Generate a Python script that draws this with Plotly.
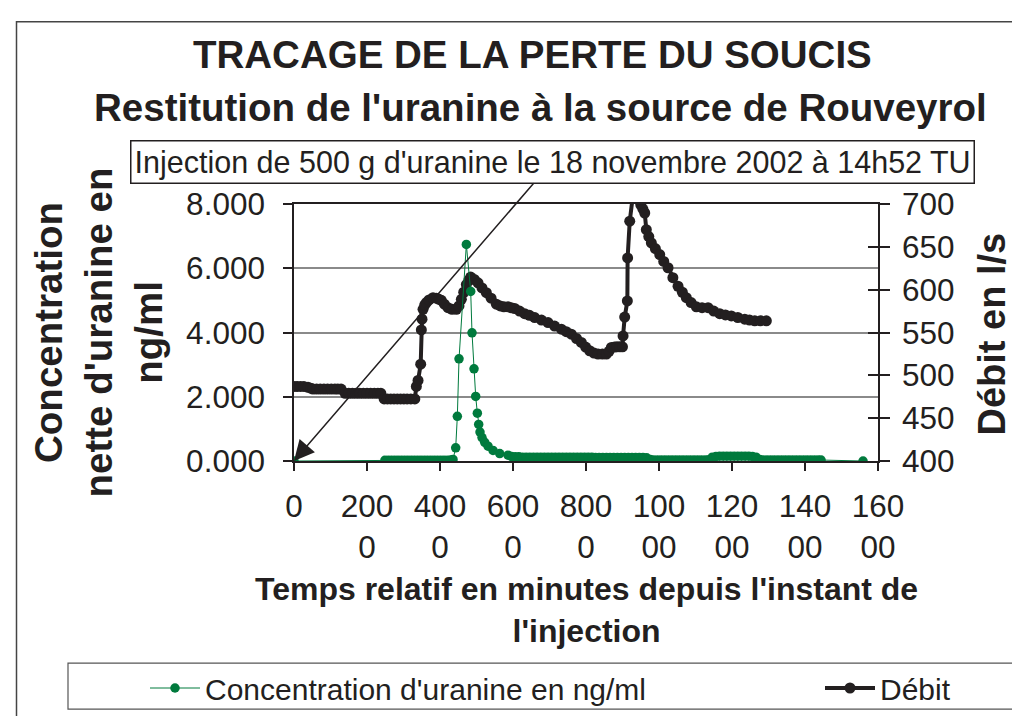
import plotly.graph_objects as go

# ---------------- data ----------------
# Débit (l/s) vs time since injection (minutes)
debit_t = [0, 90, 180, 270, 384, 460, 520, 620, 720, 820, 920, 1020, 1120, 1200, 1290,
           1400, 1500, 1600, 1700, 1800, 1900, 2000, 2100, 2200, 2300, 2380,
           2470, 2560, 2650, 2740, 2830, 2920, 3010, 3100, 3200, 3310, 3352, 3398, 3471,
           3489, 3507, 3535, 3580, 3626, 3700, 3809, 3900, 3960, 4037, 4120, 4220, 4330,
           4448, 4520, 4585, 4650, 4722, 4790, 4841, 4940, 5042, 5150, 5270, 5400, 5544,
           5650, 5750, 5864, 5950, 6046, 6180, 6320, 6450, 6595, 6780, 6960, 7140, 7325,
           7460, 7598, 7740, 7872, 7990, 8101, 8220, 8330, 8450, 8558, 8630, 8695, 8780,
           8850, 8930, 9000, 9015, 9060, 9133, 9140, 9198, 9300, 9500, 9560, 9609, 9653,
           9720, 9790, 9900, 10020, 10130, 10248, 10380, 10522, 10640, 10749, 10880,
           11023, 11180, 11344, 11500, 11664, 11820, 11982, 12160, 12349, 12480, 12623,
           12780, 12941]
debit_q = [487, 487, 487, 487, 486, 485, 484, 484, 484, 484, 484, 484, 484, 484, 484,
           479, 479, 479, 479, 479, 479, 479, 479, 479, 479, 479,
           472.5, 472.5, 472.5, 472.5, 472.5, 472.5, 472.5, 472.5, 472.5, 472.5, 487, 494,
           513, 553, 565.5, 577, 582, 585, 588, 590.7, 590, 589, 587.6, 583, 579, 577,
           577, 581, 588.7, 597, 606, 611, 614.7, 612, 608, 602, 596.5, 590, 583,
           581, 580, 580, 579, 578, 575, 572, 570, 567.4, 564.5, 561.6, 557.5, 553.9,
           551, 548, 543, 538.4, 533, 528.7, 526, 524.8, 524.8, 524.8, 528, 532.6, 533,
           533.3, 533.3, 533.3, 546, 568, 586.8, 637, 680, 715, 699, 694, 689.5, 670,
           662, 654.7, 648, 641, 633, 625.6, 614, 604, 597, 590.7, 585,
           580, 579, 579, 575, 572, 570.5, 569.4, 567.5, 565.5, 564.5, 563.6,
           563.6, 563.6]

# Concentration d'uranine (ng/ml) vs time since injection (minutes)
conc_t = [0, 2490, 2580, 2670, 2760, 2850, 2940, 3030, 3120, 3210, 3300, 3390, 3480, 3570,
          3660, 3750, 3840, 3930, 4020, 4110, 4200, 4290, 4357, 4430, 4475, 4521, 4722,
          4841, 4877, 4932, 4978, 5023, 5060, 5096, 5151, 5225, 5316, 5453, 5636, 5864,
          5960, 6060, 6160, 6260, 6360, 6460, 6560, 6660, 6760, 6860, 6960, 7060, 7160,
          7260, 7360, 7460, 7560, 7660, 7760, 7860, 7960, 8060, 8160, 8260, 8360, 8460,
          8560, 8660, 8760, 8860, 8960, 9060, 9160, 9260, 9360, 9460, 9560, 9660, 9760,
          9860, 9960, 10060, 10160, 10260, 10360, 10460, 10560, 10660, 10760, 10860,
          10960, 11060, 11160, 11260, 11360, 11460, 11560, 11660, 11760, 11860, 11960,
          12060, 12160, 12260, 12360, 12460, 12560, 12660, 12760, 12860, 12960, 13060,
          13160, 13260, 13360, 13460, 13560, 13660, 13760, 13860, 13960, 14060, 14160,
          14260, 14360, 14440, 15590]
conc_c = [0.0, 0.02, 0.02, 0.02, 0.02, 0.02, 0.02, 0.02, 0.02, 0.02, 0.02, 0.02, 0.02, 0.02,
          0.02, 0.02, 0.02, 0.02, 0.02, 0.02, 0.02, 0.03, 0.05, 0.41, 1.39, 3.18, 6.74,
          5.28, 3.99, 2.87, 2.01, 1.49, 1.14, 0.90, 0.73, 0.58, 0.46, 0.33, 0.23, 0.18,
          0.14, 0.13, 0.13, 0.12, 0.12, 0.12, 0.12, 0.12, 0.12, 0.12, 0.12, 0.12, 0.12,
          0.12, 0.12, 0.12, 0.12, 0.12, 0.12, 0.12, 0.12, 0.12, 0.12, 0.11, 0.11, 0.11,
          0.11, 0.11, 0.11, 0.11, 0.11, 0.11, 0.11, 0.11, 0.11, 0.11, 0.11, 0.10, 0.05,
          0.03, 0.03, 0.03, 0.03, 0.03, 0.03, 0.03, 0.03, 0.03, 0.03, 0.03,
          0.03, 0.03, 0.03, 0.03, 0.04, 0.12, 0.14, 0.15, 0.15, 0.15, 0.15,
          0.15, 0.15, 0.15, 0.15, 0.15, 0.14, 0.12, 0.05, 0.03, 0.03, 0.03,
          0.03, 0.03, 0.03, 0.03, 0.03, 0.03, 0.03, 0.03, 0.03, 0.03, 0.03,
          0.03, 0.03, 0.03, 0.0]

x_tickvals = [0, 2000, 4000, 6000, 8000, 10000, 12000, 14000, 16000]
x_ticktext = ["0", "200<br>0", "400<br>0", "600<br>0", "800<br>0",
              "100<br>00", "120<br>00", "140<br>00", "160<br>00"]
conc_tickvals = [0, 2, 4, 6, 8]
conc_ticktext = ["0.000", "2.000", "4.000", "6.000", "8.000"]
debit_tickvals = [400, 450, 500, 550, 600, 650, 700]

title1 = "TRACAGE DE LA PERTE DU SOUCIS"
title2 = "Restitution de l'uranine à la source de Rouveyrol"
note = "Injection de 500 g d'uranine le 18 novembre 2002 à 14h52 TU"
ytitle_left = "Concentration<br>nette d'uranine en<br>ng/ml"
ytitle_right = "Débit en l/s"
xtitle = "Temps relatif en minutes depuis l'instant de<br>l'injection"

# ---------------- figure ----------------
FONT = "Liberation Sans, Arial, sans-serif"
TXT = "#231F20"
GREEN = "#007A3D"
BLACK = "#231F20"

W, H = 1020, 716
L, R, T, B = 286, 150, 196, 262
pw, ph = W - L - R, H - T - B


def px(xp):
    return (xp - L) / pw


def py(yp):
    return (H - B - yp) / ph


fig = go.Figure()

# invisible copy of the Débit series on a helper axis that only carries the
# inner half of the crossing ticks on the right-hand axis
fig.add_trace(go.Scatter(
    x=debit_t, y=debit_q, mode="lines", line=dict(width=0, color="rgba(0,0,0,0)"),
    yaxis="y3", showlegend=False, hoverinfo="skip"))

# Débit on primary y (drawn below), displayed on the right side
fig.add_trace(go.Scatter(
    x=debit_t, y=debit_q, name="Débit", mode="lines+markers",
    line=dict(color=BLACK, width=4), marker=dict(color=BLACK, size=11),
    yaxis="y", legend="legend2"))

# Concentration on overlaying axis (drawn on top), displayed on the left
fig.add_trace(go.Scatter(
    x=conc_t, y=conc_c, name="Concentration d'uranine en ng/ml", mode="lines+markers",
    line=dict(color=GREEN, width=1), marker=dict(color=GREEN, size=9.5),
    yaxis="y2", legend="legend"))

TICKFONT = dict(size=31.5, family=FONT, color=TXT)

fig.update_layout(
    width=W, height=H,
    margin=dict(l=L, r=R, t=T, b=B),
    paper_bgcolor="white", plot_bgcolor="white",
    font=dict(family=FONT, color=TXT),
    showlegend=True,
    legend=dict(orientation="h", x=px(137), y=py(680), xanchor="left", yanchor="middle",
                font=dict(size=30, family=FONT, color=TXT),
                bgcolor="rgba(0,0,0,0)", borderwidth=0, itemwidth=50),
    legend2=dict(orientation="h", x=px(812), y=py(680), xanchor="left", yanchor="middle",
                 font=dict(size=30, family=FONT, color=TXT),
                 bgcolor="rgba(0,0,0,0)", borderwidth=0, itemwidth=50),
    xaxis=dict(range=[0, 16000], tickvals=x_tickvals, ticktext=x_ticktext,
               tickfont=TICKFONT,
               ticks="outside", ticklen=8, tickcolor=BLACK, tickwidth=1.5,
               showline=True, linecolor=BLACK, linewidth=1.5, mirror=True,
               showgrid=False, zeroline=False, layer="below traces",
               ticklabelstandoff=8),
    yaxis=dict(range=[400, 700], tickvals=debit_tickvals, side="right",
               tickfont=TICKFONT,
               ticks="outside", ticklen=10, tickcolor=BLACK, tickwidth=1.5,
               showline=True, linecolor=BLACK, linewidth=1.5,
               showgrid=False, zeroline=False, ticklabelstandoff=6),
    yaxis2=dict(range=[0, 8], tickvals=conc_tickvals, ticktext=conc_ticktext,
                overlaying="y", side="left",
                tickfont=TICKFONT,
                ticks="outside", ticklen=9, tickcolor=BLACK, tickwidth=1.5,
                showline=True, linecolor=BLACK, linewidth=1.5,
                showgrid=True, gridcolor="#8a8a8a", gridwidth=1.5,
                zeroline=False, ticklabelstandoff=12),
    yaxis3=dict(range=[400, 700], tickvals=debit_tickvals, overlaying="y", side="right",
                anchor="x", ticks="inside", ticklen=10, tickcolor=BLACK, tickwidth=1.5,
                showticklabels=False, showline=False, showgrid=False, zeroline=False),
)

annotations = [
    dict(text="<b>" + title1 + "</b>", x=px(524), y=py(46), xref="paper", yref="paper",
         showarrow=False, font=dict(size=38.5, family=FONT, color=TXT),
         xanchor="center", yanchor="middle"),
    dict(text="<b>" + title2 + "</b>", x=px(532), y=py(99), xref="paper", yref="paper",
         showarrow=False, font=dict(size=38.5, family=FONT, color=TXT),
         xanchor="center", yanchor="middle"),
    dict(text="<b>" + ytitle_left + "</b>", x=px(90), y=py(325), xref="paper", yref="paper",
         showarrow=False, textangle=-90, font=dict(size=38.5, family=FONT, color=TXT),
         xanchor="center", yanchor="middle"),
    dict(text="<b>" + ytitle_right + "</b>", x=px(984), y=py(327), xref="paper", yref="paper",
         showarrow=False, textangle=-90, font=dict(size=38, family=FONT, color=TXT),
         xanchor="center", yanchor="middle"),
    dict(text="<b>" + xtitle + "</b>", x=px(578), y=py(604), xref="paper", yref="paper",
         showarrow=False, font=dict(size=32, family=FONT, color=TXT),
         xanchor="center", yanchor="middle"),
    dict(text=note, x=0, y=0, xref="x", yref="y2",
         showarrow=True, axref="pixel", ayref="pixel", ax=258, ay=-299,
         arrowhead=2, arrowsize=2.7, arrowwidth=1.5, arrowcolor=BLACK,
         font=dict(size=30.5, family=FONT, color=TXT),
         bordercolor=BLACK, borderwidth=1.5, borderpad=3, bgcolor="white"),
]
fig.update_layout(annotations=annotations)

shapes = [
    # outer chart border
    dict(type="rect", xref="paper", yref="paper", x0=px(8.5), x1=px(1030), y0=py(725), y1=py(13),
         line=dict(color="#444444", width=1.5), fillcolor="rgba(0,0,0,0)", layer="below"),
    # legend box
    dict(type="rect", xref="paper", yref="paper", x0=px(60), x1=px(1030), y0=py(703), y1=py(657),
         line=dict(color="#555555", width=1.2), fillcolor="rgba(0,0,0,0)", layer="below"),
]
fig.update_layout(shapes=shapes)

fig.write_html("out.html")
